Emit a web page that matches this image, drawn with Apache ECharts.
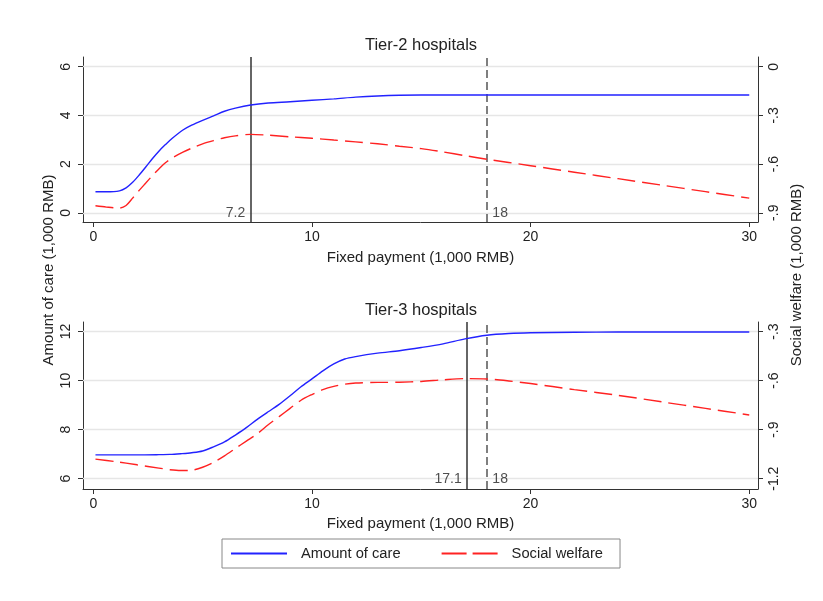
<!DOCTYPE html>
<html>
<head>
<meta charset="utf-8">
<title>Amount of care and social welfare by fixed payment</title>
<script src="https://cdn.jsdelivr.net/npm/echarts@6/dist/echarts.min.js"></script>
<style>
  html, body { margin: 0; padding: 0; background: #fff; }
  #chart { width: 823px; height: 601px; }
</style>
</head>
<body>
<div id="chart"></div>
<script>
// Fixed payment grid (1,000 RMB) for each panel
const tier2X = [0.1, 0.6, 1.2, 1.5, 1.8, 2.1, 2.4, 2.7, 3.0, 3.3, 3.6, 4.1, 4.5, 5.0, 5.5, 6.0, 6.5, 7.2,
  8, 9, 10, 11, 12, 13, 14, 15, 16, 17, 18, 20, 22, 24, 26, 28, 30];
const tier3X = [0.1, 1, 2, 3, 3.5, 4, 4.5, 5, 5.5, 6, 6.5, 7, 7.5, 8, 8.5, 9, 9.5, 10, 10.5, 11, 11.5,
  12, 13, 14, 15, 16, 17, 18, 19, 20, 22, 24, 26, 28, 30];

// Tier-2 hospitals
const tier2Care = [0.86, 0.86, 0.9, 1.02, 1.25, 1.55, 1.88, 2.22, 2.53, 2.8, 3.05, 3.4, 3.6, 3.8, 3.98, 4.17, 4.3, 4.43,
  4.51, 4.56, 4.62, 4.68, 4.75, 4.8, 4.83, 4.84, 4.84, 4.84, 4.84, 4.84, 4.84, 4.84, 4.84, 4.84, 4.84];
const tier2Welfare = [-0.857, -0.865, -0.871, -0.855, -0.81, -0.762, -0.717, -0.672, -0.63, -0.592, -0.563, -0.527,
  -0.502, -0.475, -0.455, -0.438, -0.426, -0.417, -0.422, -0.432, -0.441, -0.452, -0.463, -0.475, -0.49, -0.505,
  -0.525, -0.548, -0.57, -0.61, -0.65, -0.69, -0.73, -0.77, -0.81];

// Tier-3 hospitals
const tier3Care = [6.97, 6.97, 6.97, 6.98, 6.99, 7.02, 7.06, 7.13, 7.3, 7.5, 7.78, 8.08, 8.42, 8.73, 9.03, 9.38, 9.75,
  10.07, 10.4, 10.68, 10.88, 10.98, 11.12, 11.22, 11.35, 11.5, 11.7, 11.85, 11.92, 11.95, 11.97, 11.98, 11.98, 11.98, 11.98];
const tier3Welfare = [-1.08, -1.095, -1.115, -1.135, -1.145, -1.15, -1.148, -1.13, -1.1, -1.06, -1.015, -0.97, -0.925,
  -0.87, -0.82, -0.77, -0.72, -0.685, -0.655, -0.635, -0.622, -0.615, -0.611, -0.61, -0.605, -0.595, -0.588, -0.59,
  -0.602, -0.618, -0.655, -0.69, -0.73, -0.77, -0.81];

// Reference payments: [solid, dashed]
const tier2Marks = [7.2, 18];
const tier3Marks = [17.1, 18];

// Tick labels
const xTicks = [0, 10, 20, 30];
const tier2CareTicks = [0, 2, 4, 6];
const tier2WelfareTicks = [0, -0.3, -0.6, -0.9];
const tier3CareTicks = [6, 8, 10, 12];
const tier3WelfareTicks = [-0.3, -0.6, -0.9, -1.2];

const FONT = '"Liberation Sans", Helvetica, Arial, sans-serif';
const TEXT = '#222';
const AXIS = '#333';
const BLUE = '#2222ff';
const RED = '#ff2222';
const TICK_SIZE = 14;
const NAME_SIZE = 15;

const pair = (xs, ys) => xs.map((x, i) => [x, ys[i]]);
const stataNum = v => String(+v.toFixed(2)).replace(/^(-?)0\./, '$1.');

// Welfare scale is a linear map of the care scale: welfare = a + b * care
function welfareRange(careRange, a, b) {
  return [a + b * careRange[0], a + b * careRange[1]];
}
const tier2CareRange = [-0.38, 6.4];
const tier2WelfareRange = welfareRange(tier2CareRange, -0.9, 0.15);
const tier3CareRange = [5.58, 12.39];
const tier3WelfareRange = welfareRange(tier3CareRange, -2.1, 0.15);

function xAxisFor(gridIndex, nameGap) {
  return {
    type: 'value', gridIndex, min: -0.47, max: 30.4,
    axisLine: { show: true, onZero: false, lineStyle: { color: AXIS, width: 1 } },
    axisTick: { show: true, length: 5, customValues: xTicks, lineStyle: { color: AXIS } },
    axisLabel: { customValues: xTicks, margin: 8, fontSize: TICK_SIZE, color: TEXT, fontFamily: FONT },
    splitLine: { show: false },
    name: 'Fixed payment (1,000 RMB)', nameLocation: 'middle', nameGap,
    nameTextStyle: { fontSize: NAME_SIZE, color: TEXT, fontFamily: FONT }
  };
}

function yAxisFor(gridIndex, position, range, ticks) {
  return {
    type: 'value', gridIndex, position, min: range[0], max: range[1],
    axisLine: { show: true, onZero: false, lineStyle: { color: AXIS, width: 1 } },
    axisTick: { show: true, length: 5, customValues: ticks, lineStyle: { color: AXIS } },
    axisLabel: {
      customValues: ticks, rotate: 90, margin: position === 'left' ? 10 : 9,
      fontSize: TICK_SIZE, color: TEXT, fontFamily: FONT, formatter: v => stataNum(v)
    },
    splitLine: { show: false }
  };
}

// Horizontal grid lines at the care ticks plus the two vertical reference payments
function refLines(marks, gridTicks) {
  const grid = gridTicks.map(v => ({ yAxis: v, lineStyle: { color: '#e6e6e6', width: 1.3, type: 'solid' } }));
  return {
    silent: true, symbol: ['none', 'none'], z: 1,
    label: { show: false },
    data: grid.concat([
      { xAxis: marks[0], lineStyle: { color: '#333', width: 1.5, type: 'solid' } },
      { xAxis: marks[1], lineStyle: { color: '#555', width: 1.5, type: [8, 4] } }
    ])
  };
}

function markLabels(marks, yAt, xAxisIndex, yAxisIndex) {
  return {
    type: 'scatter', xAxisIndex, yAxisIndex, silent: true, symbolSize: 1,
    itemStyle: { color: 'rgba(0,0,0,0)' }, z: 6,
    data: [[marks[0], yAt], [marks[1], yAt]].map((d, i) => ({
      value: d,
      label: {
        show: true, position: i === 0 ? 'left' : 'right', distance: 5,
        formatter: p => String(p.value[0]), fontSize: TICK_SIZE, color: TEXT, fontFamily: FONT
      }
    }))
  };
}

function careSeries(data, xi, yi, marks, ticks) {
  return {
    name: 'Amount of care', type: 'line', xAxisIndex: xi, yAxisIndex: yi, data,
    smooth: 0.3, showSymbol: false, symbol: 'none', z: 3,
    lineStyle: { color: BLUE, width: 1.4 }, itemStyle: { color: BLUE },
    markLine: refLines(marks, ticks)
  };
}

function welfareSeries(data, xi, yi) {
  return {
    name: 'Social welfare', type: 'line', xAxisIndex: xi, yAxisIndex: yi, data,
    smooth: 0.3, showSymbol: false, symbol: 'none', z: 3,
    lineStyle: { color: RED, width: 1.4, type: [18, 7] }, itemStyle: { color: RED }
  };
}

const chart = echarts.init(document.getElementById('chart'), null, { renderer: 'canvas' });

chart.setOption({
  backgroundColor: '#fff',
  animation: false,
  textStyle: { fontFamily: FONT },
  grid: [
    { left: 83, right: 65, top: 57, height: 165 },
    { left: 83, right: 65, top: 322, height: 167 }
  ],
  xAxis: [xAxisFor(0, 28), xAxisFor(1, 27)],
  yAxis: [
    yAxisFor(0, 'left', tier2CareRange, tier2CareTicks),
    yAxisFor(0, 'right', tier2WelfareRange, tier2WelfareTicks),
    yAxisFor(1, 'left', tier3CareRange, tier3CareTicks),
    yAxisFor(1, 'right', tier3WelfareRange, tier3WelfareTicks)
  ],
  legend: {
    data: [
      { name: 'Amount of care' },
      { name: 'Social welfare', lineStyle: { type: [25, 6] } }
    ],
    left: 222, top: 539,
    itemWidth: 56, itemHeight: 14, itemGap: 40,
    padding: [7, 17, 7, 8],
    borderColor: '#888', borderWidth: 1,
    itemStyle: { opacity: 0 },
    textStyle: { fontSize: 14.7, color: TEXT, fontFamily: FONT, padding: [0, 0, 0, 9] },
    selectedMode: false
  },
  graphic: [
    { type: 'text', x: 421, y: 45, style: { text: 'Tier-2 hospitals', fontSize: 16.5, fill: TEXT, fontFamily: FONT, align: 'center', verticalAlign: 'middle' } },
    { type: 'text', x: 421, y: 310, style: { text: 'Tier-3 hospitals', fontSize: 16.5, fill: TEXT, fontFamily: FONT, align: 'center', verticalAlign: 'middle' } },
    { type: 'text', x: 49, y: 270, rotation: Math.PI / 2, style: { text: 'Amount of care (1,000 RMB)', fontSize: NAME_SIZE, fill: TEXT, fontFamily: FONT, align: 'center', verticalAlign: 'middle' } },
    { type: 'text', x: 797, y: 275, rotation: Math.PI / 2, style: { text: 'Social welfare (1,000 RMB)', fontSize: NAME_SIZE, fill: TEXT, fontFamily: FONT, align: 'center', verticalAlign: 'middle' } }
  ],
  series: [
    careSeries(pair(tier2X, tier2Care), 0, 0, tier2Marks, tier2CareTicks),
    welfareSeries(pair(tier2X, tier2Welfare), 0, 1),
    careSeries(pair(tier3X, tier3Care), 1, 2, tier3Marks, tier3CareTicks),
    welfareSeries(pair(tier3X, tier3Welfare), 1, 3),
    markLabels(tier2Marks, tier2CareTicks[0], 0, 0),
    markLabels(tier3Marks, tier3CareTicks[0], 1, 2)
  ]
});
</script>
</body>
</html>
